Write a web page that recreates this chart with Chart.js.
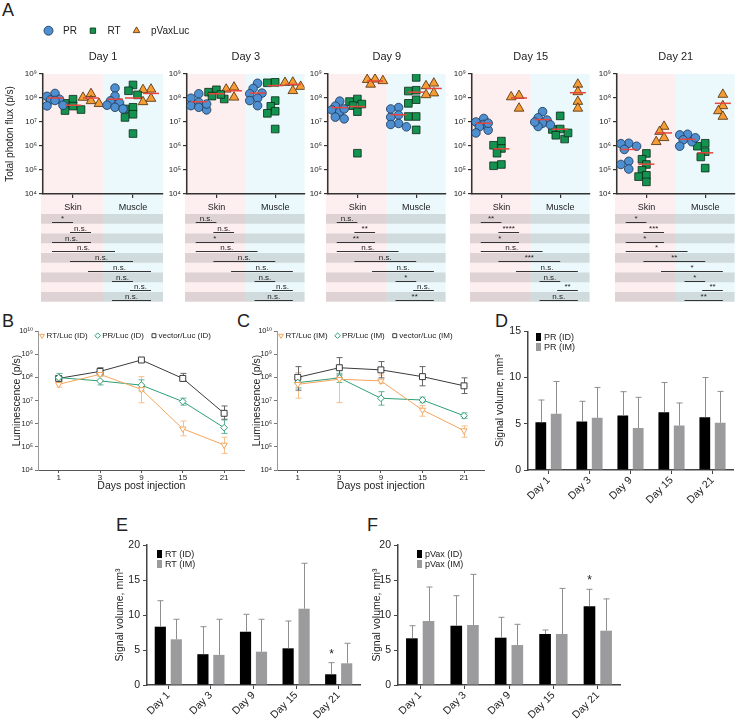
<!DOCTYPE html>
<html><head><meta charset="utf-8">
<script src="https://cdn.jsdelivr.net/npm/chart.js@4.4.1/dist/chart.umd.min.js"></script>
<style>
html,body{margin:0;padding:0;background:#fff;}
body{width:741px;height:720px;position:relative;overflow:hidden;font-family:"Liberation Sans",Arial,sans-serif;color:#222;}
canvas{position:absolute;}
.pl{position:absolute;font-size:18px;line-height:18px;color:#222;}
</style></head><body>
<div class="pl" style="left:2px;top:1px">A</div>
<div class="pl" style="left:2px;top:312px">B</div>
<div class="pl" style="left:237px;top:312px">C</div>
<div class="pl" style="left:495px;top:312px">D</div>
<div class="pl" style="left:116px;top:516px">E</div>
<div class="pl" style="left:367px;top:516px">F</div>
<script>
// ================= DATA =================
const dayLabels = ['Day 1','Day 3','Day 9','Day 15','Day 21'];
const tissues = ['Skin','Muscle'];
const groupLabels = ['PR','RT','pVaxLuc'];
const fluxTicks = [1e4,1e5,1e6,1e7,1e8,1e9];
const lumTicks = [1e4,1e5,1e6,1e7,1e8,1e9,1e10];

// Panel A, total photon flux (p/s), one row per day
const prSkin = [
 [1.55e8,1.17e8,8.9e7,8.3e7,7.9e7,4.7e7,5.0e7],
 [1.5e8,9.8e7,6.6e7,4.8e7,4.1e7,3.2e7,5.6e7],
 [7.4e7,4.6e7,3.2e7,2.7e7,1.6e7,1.35e7,3.5e7],
 [1.4e7,1.0e7,7.9e6,6.3e6,4.6e6,3.5e6,8.9e6],
 [1.3e6,1.25e6,9.8e5,7.2e5,2.3e5,1.7e5,1.1e5]
];
const rtSkin = [
 [8.9e7,6.0e7,4.6e7,3.3e7,3.0e7],
 [2.2e8,1.75e8,1.2e8,9.1e7,1.4e8],
 [9.1e7,7.1e7,4.8e7,2.7e7,5.0e5,5.6e7],
 [1.6e6,1.07e6,7.9e5,5.0e5,1.7e5,1.5e5],
 [4.9e5,2.8e5,1.7e5,9.8e4,6.0e4,5.3e4,3.2e4]
];
const pvSkin = [
 [1.5e8,1.05e8,7.6e7,5.8e7],
 [2.8e8,2.3e8,1.07e8],
 [6.0e8,5.8e8,5.2e8,3.7e8],
 [1.25e8,1.1e8,3.7e7],
 [6.5e6,4.0e6,2.2e6,1.5e6]
];
const prMuscle = [
 [2.6e8,1.2e8,7.6e7,6.2e7,5.0e7,4.1e7,3.5e7],
 [4.1e8,2.5e8,1.6e8,1.5e8,9.8e7,7.8e7,4.8e7],
 [4.0e7,1.95e7,1.6e7,8.7e6,7.9e6,6.3e6,3.5e7],
 [2.7e7,1.5e7,1.2e7,8.9e6,7.6e6,6.5e6,1.0e7],
 [3.1e6,2.9e6,1.8e6,1.5e6,9.8e5,2.2e6]
];
const rtMuscle = [
 [3.5e8,2.0e8,1.35e8,4.1e7,3.5e7,2.1e7,1.55e7,3.3e6],
 [4.5e8,4.3e8,7.8e7,4.5e7,2.8e7,2.3e7,5.1e6],
 [7.2e8,2.1e8,1.95e8,8.5e7,6.0e7,1.7e7,1.7e7,4.7e6],
 [1.8e7,5.1e6,4.9e6,2.8e6,1.95e6,3.5e6],
 [1.3e6,9.8e5,5.8e5,3.5e5,1.2e5]
];
const pvMuscle = [
 [2.3e8,2.2e8,9.5e7,6.9e7],
 [4.5e8,4.4e8,3.0e8,2.0e8],
 [4.1e8,3.2e8,1.6e8,1.35e8],
 [3.7e8,1.8e8,7.1e7,3.7e7],
 [1.4e8,4.7e7,2.9e7,1.7e7]
];
// red centre lines [PR, RT, pVaxLuc]
const medianSkin = [
 [1.0e8,5.0e7,1.0e8],
 [7.0e7,1.5e8,2.0e8],
 [4.0e7,4.4e7,5.1e8],
 [8.9e6,7.6e5,1.0e8],
 [7.2e5,1.75e5,3.5e6]
];
const medianMuscle = [
 [8.9e7,1.0e8,1.55e8],
 [1.6e8,3.3e8,3.7e8],
 [2.0e7,1.75e8,2.5e8],
 [1.26e7,5.0e6,1.66e8],
 [1.9e6,5.2e5,6.0e7]
];
// comparisons between groups (0-2 skin PR/RT/pVax, 3-5 muscle PR/RT/pVax)
const comparisons = [[0,1],[1,2],[0,2],[0,3],[1,4],[2,5],[3,4],[4,5],[3,5]];
const sigLabels = [
 ['*','n.s.','n.s.','n.s.','n.s.','n.s.','n.s.','n.s.','n.s.'],
 ['n.s.','n.s.','*','n.s.','n.s.','n.s.','n.s.','n.s.','n.s.'],
 ['n.s.','**','**','n.s.','n.s.','n.s.','*','n.s.','**'],
 ['**','****','*','n.s.','***','n.s.','n.s.','**','n.s.'],
 ['*','***','*','*','**','*','*','**','**']
];

// Panels B / C, luminescence (p/s)
const timeLabels = ['1','3','9','15','21'];
const rtLucID = [5.0e7,1.35e8,3.0e7,6.0e5,1.2e5];
const rtLucIDLow = [3.8e7,1.15e8,8.0e6,3.0e5,5.2e4];
const rtLucIDHigh = [6.3e7,1.6e8,1.07e8,1.3e6,2.6e5];
const prLucID = [9.7e7,7.0e7,4.6e7,9.0e6,6.7e5];
const prLucIDLow = [6.5e7,4.7e7,2.6e7,6.3e6,3.8e5];
const prLucIDHigh = [1.48e8,1.15e8,7.8e7,1.26e7,1.45e6];
const vecLucID = [9.0e7,1.8e8,5.6e8,9.0e7,2.8e6];
const vecLucIDLow = [7.8e7,1.35e8,4.8e8,6.9e7,1.55e6];
const vecLucIDHigh = [1.05e8,2.6e8,6.5e8,1.48e8,5.8e6];

const rtLucIM = [5.0e7,8.3e7,7.0e7,3.9e6,5.0e5];
const rtLucIMLow = [1.26e7,8.1e6,5.5e7,2.1e6,2.6e5];
const rtLucIMHigh = [1.6e8,2.9e8,1.26e8,6.0e6,8.0e5];
const prLucIM = [5.9e7,9.5e7,1.25e7,1.05e7,2.2e6];
const prLucIMLow = [3.5e7,6.0e7,6.3e6,8.0e6,1.7e6];
const prLucIMHigh = [9.5e7,1.5e8,2.4e7,1.4e7,2.9e6];
const vecLucIM = [1.0e8,2.6e8,2.1e8,1.07e8,4.3e7];
const vecLucIMLow = [2.8e7,1.26e8,9.5e7,4.3e7,2.0e7];
const vecLucIMHigh = [2.9e8,7.1e8,4.8e8,2.9e8,9.5e7];

// Panels D / E / F, signal volume (mm3), mean and SD
const volDays = ['Day 1','Day 3','Day 9','Day 15','Day 21'];
const prIDVol = [5.17,5.25,5.9,6.25,5.71];
const prIDSd = [2.4,2.18,2.57,3.21,4.29];
const prIMVol = [6.07,5.64,4.54,4.82,5.11];
const prIMSd = [3.5,3.29,3.32,2.43,3.39];
const rtIDVol = [8.33,4.4,7.61,5.24,1.53];
const rtIDSd = [3.71,3.93,2.49,3.9,1.66];
const rtIMVol = [6.53,4.3,4.76,10.9,3.1];
const rtIMSd = [2.86,5.09,4.63,6.49,2.86];
const pvIDVol = [6.67,8.47,6.76,7.29,11.24];
const pvIDSd = [1.8,4.29,2.91,0.57,2.43];
const pvIMVol = [9.14,8.57,5.71,7.29,7.76];
const pvIMSd = [4.86,7.23,2.96,6.51,4.54];
const rtIDSig = ['','','','','*'];
const pvIDSig = ['','','','','*'];

// ================= SETUP =================
const FONT = '"Liberation Sans", Arial, "DejaVu Sans", sans-serif';
Chart.defaults.font.family = FONT;
Chart.defaults.color = '#222';
Chart.defaults.animation = false;
Chart.defaults.responsive = false;
Chart.defaults.maintainAspectRatio = false;
Chart.defaults.devicePixelRatio = 1;
Chart.defaults.plugins.legend.display = false;
Chart.defaults.plugins.tooltip.enabled = false;
Chart.defaults.events = [];

const SUP = '⁰¹²³⁴⁵⁶⁷⁸⁹';
const expLabel = v => { const e = Math.round(Math.log10(v)); return '10' + String(e).split('').map(c => SUP[+c]).join(''); };

function addCanvas(left, top, w, h) {
  const c = document.createElement('canvas');
  c.width = w; c.height = h;
  c.style.left = left + 'px'; c.style.top = top + 'px';
  c.style.width = w + 'px'; c.style.height = h + 'px';
  document.body.appendChild(c);
  return c;
}

function drawMarker(ctx, style, x, y, r, rot) {
  ctx.beginPath();
  if (style === 'circle') {
    ctx.arc(x, y, r, 0, Math.PI * 2);
  } else if (style === 'rect') {
    const s = r * Math.SQRT1_2;
    ctx.rect(x - s, y - s, 2 * s, 2 * s);
  } else if (style === 'rectRot') {
    ctx.moveTo(x, y - r); ctx.lineTo(x + r, y); ctx.lineTo(x, y + r); ctx.lineTo(x - r, y); ctx.closePath();
  } else if (style === 'triangle') {
    const d = rot === 180 ? -1 : 1;
    ctx.moveTo(x, y - d * r);
    ctx.lineTo(x - r * 0.866, y + d * r / 2);
    ctx.lineTo(x + r * 0.866, y + d * r / 2);
    ctx.closePath();
  }
  ctx.fill(); ctx.stroke();
}

// legend drawn from the chart's own datasets
const miniLegend = {
  id: 'miniLegend',
  afterDraw(chart, args, o) {
    if (!o || !o.display) return;
    const ctx = chart.ctx;
    ctx.save();
    ctx.font = o.size + 'px ' + FONT;
    ctx.textBaseline = 'middle';
    ctx.textAlign = 'left';
    let cx = o.x, cy = o.y;
    chart.data.datasets.forEach(ds => {
      if (o.kind === 'box') {
        ctx.fillStyle = ds.backgroundColor;
        ctx.fillRect(cx, cy - 4, 5, 8);
        ctx.fillStyle = '#222';
        ctx.fillText(ds.label, cx + 8, cy + 0.5);
        cy += o.rowGap;
      } else {
        ctx.fillStyle = o.hollow ? '#fff' : ds.backgroundColor;
        ctx.strokeStyle = ds.borderColor;
        ctx.lineWidth = o.bw;
        drawMarker(ctx, ds.pointStyle, cx, cy, o.radius * (ds.legendScale || 1), ds.pointRotation || 0);
        ctx.fillStyle = '#222';
        ctx.fillText(ds.label, cx + o.textOff, cy + 0.5);
        cx += o.textOff + ctx.measureText(ds.label).width + o.gap;
      }
    });
    ctx.restore();
  }
};

// error bars (two-sided for line charts, SD above bar for bar charts)
const errorBars = {
  id: 'errorBars',
  beforeDatasetsDraw(chart) {
    const ctx = chart.ctx, ys = chart.scales.y;
    chart.data.datasets.forEach((ds, i) => {
      if (!ds.errLow) return;
      const meta = chart.getDatasetMeta(i);
      ctx.save(); ctx.strokeStyle = ds.errColor; ctx.lineWidth = 1;
      meta.data.forEach((pt, j) => {
        const x = Math.round(pt.x) + 0.5;
        const y1 = ys.getPixelForValue(ds.errLow[j]), y2 = ys.getPixelForValue(ds.errHigh[j]);
        ctx.beginPath();
        ctx.moveTo(x, y1); ctx.lineTo(x, y2);
        ctx.moveTo(x - 3, y1); ctx.lineTo(x + 3, y1);
        ctx.moveTo(x - 3, y2); ctx.lineTo(x + 3, y2);
        ctx.stroke();
      });
      ctx.restore();
    });
  },
  afterDatasetsDraw(chart) {
    const ctx = chart.ctx, ys = chart.scales.y;
    chart.data.datasets.forEach((ds, i) => {
      if (!ds.sd) return;
      const meta = chart.getDatasetMeta(i);
      ctx.save(); ctx.strokeStyle = '#8e8e8e'; ctx.lineWidth = 1;
      meta.data.forEach((bar, j) => {
        const x = Math.round(bar.x) + 0.5;
        const y1 = ys.getPixelForValue(ds.data[j]);
        const y2 = ys.getPixelForValue(ds.data[j] + ds.sd[j]);
        ctx.beginPath();
        ctx.moveTo(x, y1); ctx.lineTo(x, y2);
        ctx.moveTo(x - 3, y2); ctx.lineTo(x + 3, y2);
        ctx.stroke();
        if (ds.sig && ds.sig[j]) {
          ctx.fillStyle = '#222'; ctx.font = '12px ' + FONT;
          ctx.textAlign = 'center'; ctx.textBaseline = 'alphabetic';
          ctx.fillText(ds.sig[j], x, y2 - 5);
        }
      });
      ctx.restore();
    });
  }
};

// ================= PANEL A =================
const groupOffsets = [-0.3, 0, 0.3];
const groupX = g => Math.floor(g / 3) + groupOffsets[g % 3];
const axisXA = [43, 187, 328, 472, 617];
const styleA = [
  {pointStyle: 'circle', radius: 4.3, bg: '#4d8fd0', border: '#1b3350'},
  {pointStyle: 'rect', radius: 5.4, bg: '#14924f', border: '#0b2a18'},
  {pointStyle: 'triangle', radius: 5.6, bg: '#f59c34', border: '#4a2a08'}
];

// spread overlapping points sideways (scatter dot plot layout)
function swarm(vals, cx) {
  const order = vals.map((v, i) => i).sort((a, b) => vals[b] - vals[a]);
  const placed = [], out = new Array(vals.length);
  const cands = [0, -4.5, 4.5, -8, 8];
  order.forEach(i => {
    const py = Math.log10(vals[i]) * 24;
    let best = cands[0], bestD = -1;
    for (const c of cands) {
      const dmin = placed.length ? Math.min(...placed.map(p => Math.hypot(p.px - c, p.py - py))) : 99;
      if (dmin >= 6.5) { best = c; bestD = dmin; break; }
      if (dmin > bestD) { bestD = dmin; best = c; }
    }
    placed.push({px: best, py});
    out[i] = {x: cx + best / 60, y: vals[i]};
  });
  return out;
}

const panelA = {
  id: 'panelA',
  beforeDraw(chart, args, o) {
    const {ctx, chartArea: ca} = chart, x = chart.scales.x;
    const tTop = ca.bottom + 20, rowH = 9.75;
    const bottom = tTop + rowH * comparisons.length;
    const mid = x.getPixelForValue(0.5);
    ctx.save();
    ctx.fillStyle = '#fdeef0'; ctx.fillRect(ca.left - 2, ca.top, mid - ca.left + 2, bottom - ca.top);
    ctx.fillStyle = '#ebf8fc'; ctx.fillRect(mid, ca.top, ca.right - mid, bottom - ca.top);
    ctx.fillStyle = 'rgba(70,70,70,0.16)';
    for (let i = 0; i < comparisons.length; i += 2) ctx.fillRect(ca.left - 2, tTop + i * rowH, ca.right - ca.left + 2, rowH);
    ctx.restore();
  },
  afterDatasetsDraw(chart, args, o) {
    const ctx = chart.ctx, x = chart.scales.x, y = chart.scales.y;
    ctx.save(); ctx.strokeStyle = '#e8453c'; ctx.lineWidth = 1.5;
    o.medians.forEach((m, g) => {
      const px = x.getPixelForValue(groupX(g)), py = y.getPixelForValue(m);
      ctx.beginPath(); ctx.moveTo(px - 8, py); ctx.lineTo(px + 8, py); ctx.stroke();
    });
    ctx.restore();
  },
  afterDraw(chart, args, o) {
    const ctx = chart.ctx, ca = chart.chartArea, x = chart.scales.x;
    const tTop = ca.bottom + 20, rowH = 9.75;
    ctx.save(); ctx.strokeStyle = '#333'; ctx.lineWidth = 1; ctx.fillStyle = '#222';
    ctx.font = '8px ' + FONT; ctx.textAlign = 'center'; ctx.textBaseline = 'alphabetic';
    comparisons.forEach(([a, b], i) => {
      const x1 = x.getPixelForValue(groupX(a)) - 3, x2 = x.getPixelForValue(groupX(b));
      const ly = Math.round(tTop + i * rowH + 8) + 0.5;
      ctx.beginPath(); ctx.moveTo(x1, ly); ctx.lineTo(x2, ly); ctx.stroke();
      ctx.fillText(o.sig[i], (x1 + x2) / 2, ly - 1.5);
    });
    ctx.restore();
  }
};

dayLabels.forEach((lab, d) => {
  const first = d === 0;
  const yW = first ? 43 : 30;
  const padR = first ? 40 : 4;
  const W = yW + 120 + padR;
  const cv = addCanvas(axisXA[d] - yW, 20, W, 290);
  const groups = [prSkin[d], rtSkin[d], pvSkin[d], prMuscle[d], rtMuscle[d], pvMuscle[d]];
  const pts = groups.map((vals, g) => swarm(vals, groupX(g)));
  const datasets = [0, 1, 2].map(k => ({
    label: groupLabels[k],
    data: pts[k].concat(pts[k + 3]),
    pointStyle: styleA[k].pointStyle,
    pointRadius: styleA[k].radius,
    backgroundColor: styleA[k].bg,
    borderColor: styleA[k].border,
    pointBorderWidth: 0.8,
    legendScale: [1.0, 0.85, 0.85][k]
  }));
  new Chart(cv, {
    type: 'scatter',
    data: {datasets},
    options: {
      layout: {padding: {top: 30, right: padR, left: 0, bottom: 0}},
      plugins: {
        title: {display: true, text: lab, fullSize: false, font: {size: 11, weight: 'normal'}, color: '#222', padding: {top: 0, bottom: 10.8}},
        panelA: {sig: sigLabels[d], medians: medianSkin[d].concat(medianMuscle[d])},
        miniLegend: {display: first, x: 48.5, y: 10.7, size: 10, radius: 4.5, textOff: 14.5, gap: 16, bw: 0.8, hollow: false}
      },
      scales: {
        x: {
          type: 'linear', min: -0.5, max: 1.5,
          afterBuildTicks: s => { s.ticks = [{value: 0}, {value: 1}]; },
          afterFit: s => { s.height = 116; },
          ticks: {callback: v => tissues[v], font: {size: 9}, color: '#222', padding: 4, maxRotation: 0, autoSkip: false},
          grid: {drawOnChartArea: false, drawTicks: true, tickLength: 4, color: '#333', lineWidth: 1.2},
          border: {color: '#333', width: 1.5}
        },
        y: {
          type: 'logarithmic', min: 1e4, max: 1e9,
          afterBuildTicks: s => { s.ticks = fluxTicks.map(v => ({value: v})); },
          afterFit: s => { s.width = yW; },
          ticks: {callback: v => expLabel(v), font: {size: 8}, color: '#222', padding: 2, autoSkip: false},
          grid: {drawOnChartArea: false, tickLength: 4, color: '#333', lineWidth: 1.2},
          border: {color: '#333', width: 1.5},
          title: {display: first, text: 'Total photon flux (p/s)', font: {size: 10}, color: '#222', padding: {top: 4, bottom: 0}}
        }
      }
    },
    plugins: [panelA, miniLegend]
  });
});

// ================= PANELS B, C =================
const ORANGE = '#f4a55c', GREEN = '#2e9f77', DARK = '#3a3a3a';
function lineDataset(label, data, lo, hi, color, errColor, style, rot, r) {
  return {label, data, errLow: lo, errHigh: hi, errColor,
    borderColor: color, backgroundColor: color, borderWidth: 1, tension: 0, fill: false,
    pointStyle: style, pointRotation: rot, pointRadius: r, pointBackgroundColor: '#fff',
    pointBorderColor: color, pointBorderWidth: 1};
}
function lineChart(left, yW, sets) {
  const cv = addCanvas(left, 322, 250, 175);
  new Chart(cv, {
    type: 'line',
    data: {labels: timeLabels, datasets: sets},
    options: {
      layout: {padding: {top: 9, right: 5, left: 0, bottom: 0}},
      plugins: {miniLegend: {display: true, x: yW + 4, y: 13.7, size: 8, radius: 2.8, textOff: 4.5, gap: 10, bw: 1, hollow: true}},
      scales: {
        x: {
          type: 'category', offset: true,
          afterFit: s => { s.height = 27; },
          ticks: {font: {size: 8}, padding: 0, color: '#222'},
          grid: {offset: false, drawOnChartArea: false, tickLength: 3, color: '#555'},
          border: {color: '#555', width: 1},
          title: {display: true, text: 'Days post injection', font: {size: 10.5}, color: '#222', padding: {top: 0, bottom: 4.5}}
        },
        y: {
          type: 'logarithmic', min: 1e4, max: 1e10,
          afterBuildTicks: s => { s.ticks = lumTicks.map(v => ({value: v})); },
          afterFit: s => { s.width = yW; },
          ticks: {callback: v => expLabel(v), font: {size: 7.5}, color: '#222', padding: 2, autoSkip: false},
          grid: {drawOnChartArea: false, tickLength: 3, color: '#777'},
          border: {color: '#999', width: 1},
          title: {display: true, text: 'Luminescence (p/s)', font: {size: 10.5}, color: '#222', padding: {top: 10.7, bottom: 0}}
        }
      }
    },
    plugins: [errorBars, miniLegend]
  });
}
lineChart(0, 38, [
  lineDataset('RT/Luc (ID)', rtLucID, rtLucIDLow, rtLucIDHigh, ORANGE, '#f7bf8a', 'triangle', 180, 3.6),
  lineDataset('PR/Luc (ID)', prLucID, prLucIDLow, prLucIDHigh, GREEN, '#5cb595', 'rectRot', 0, 3.4),
  lineDataset('vector/Luc (ID)', vecLucID, vecLucIDLow, vecLucIDHigh, DARK, '#666', 'rect', 0, 4.2)
]);
lineChart(240, 37, [
  lineDataset('RT/Luc (IM)', rtLucIM, rtLucIMLow, rtLucIMHigh, ORANGE, '#f7bf8a', 'triangle', 180, 3.6),
  lineDataset('PR/Luc (IM)', prLucIM, prLucIMLow, prLucIMHigh, GREEN, '#5cb595', 'rectRot', 0, 3.4),
  lineDataset('vector/Luc (IM)', vecLucIM, vecLucIMLow, vecLucIMHigh, DARK, '#666', 'rect', 0, 4.2)
]);

// ================= PANELS D, E, F =================
function barChart(c) {
  const cv = addCanvas(c.left, c.top, c.W, c.H);
  const mk = (label, data, sd, color, sig) => ({label, data, sd, sig, backgroundColor: color,
    categoryPercentage: 0.75, barPercentage: 0.7});
  new Chart(cv, {
    type: 'bar',
    data: {labels: volDays, datasets: [mk(c.names[0], c.id, c.idSd, '#000', c.sig), mk(c.names[1], c.im, c.imSd, '#9b9b9e', null)]},
    options: {
      layout: {padding: {top: c.padTop, right: c.padRight, left: 0, bottom: 0}},
      plugins: {miniLegend: {display: true, kind: 'box', x: c.legX, y: c.legY, rowGap: 10, size: 9}},
      scales: {
        x: {
          type: 'category', offset: true,
          afterFit: s => { s.height = c.xH; },
          ticks: {font: {size: 10.5}, color: '#222', padding: 0, maxRotation: 45, minRotation: 45, autoSkip: false},
          grid: {offset: false, drawOnChartArea: false, tickLength: 4, color: '#444'},
          border: {color: '#444', width: 1.5}
        },
        y: {
          min: 0, max: c.yMax,
          afterFit: s => { s.width = c.yW; },
          ticks: {stepSize: 5, font: {size: 10.5}, color: '#222', padding: 3},
          grid: {drawOnChartArea: false, tickLength: 4, color: '#444'},
          border: {color: '#444', width: 1.5},
          title: {display: true, text: 'Signal volume, mm³', font: {size: 10.5}, color: '#222', padding: {top: c.titlePad, bottom: 0}}
        }
      }
    },
    plugins: [errorBars, miniLegend]
  });
}
barChart({left: 490, top: 322, W: 251, H: 188, yW: 38, padTop: 8, padRight: 8, xH: 40, yMax: 15, titlePad: 3.7,
  names: ['PR (ID)', 'PR (IM)'], id: prIDVol, idSd: prIDSd, im: prIMVol, imSd: prIMSd, sig: null, legX: 46, legY: 15});
barChart({left: 110, top: 535, W: 255, H: 185, yW: 37, padTop: 10, padRight: 5, xH: 35, yMax: 20, titlePad: 3.7,
  names: ['RT (ID)', 'RT (IM)'], id: rtIDVol, idSd: rtIDSd, im: rtIMVol, imSd: rtIMSd, sig: rtIDSig, legX: 47, legY: 19});
barChart({left: 366, top: 535, W: 259, H: 185, yW: 32, padTop: 10, padRight: 5, xH: 35, yMax: 20, titlePad: 4.7,
  names: ['pVax (ID)', 'pVax (IM)'], id: pvIDVol, idSd: pvIDSd, im: pvIMVol, imSd: pvIMSd, sig: pvIDSig, legX: 51, legY: 19});
</script>
</body></html>
